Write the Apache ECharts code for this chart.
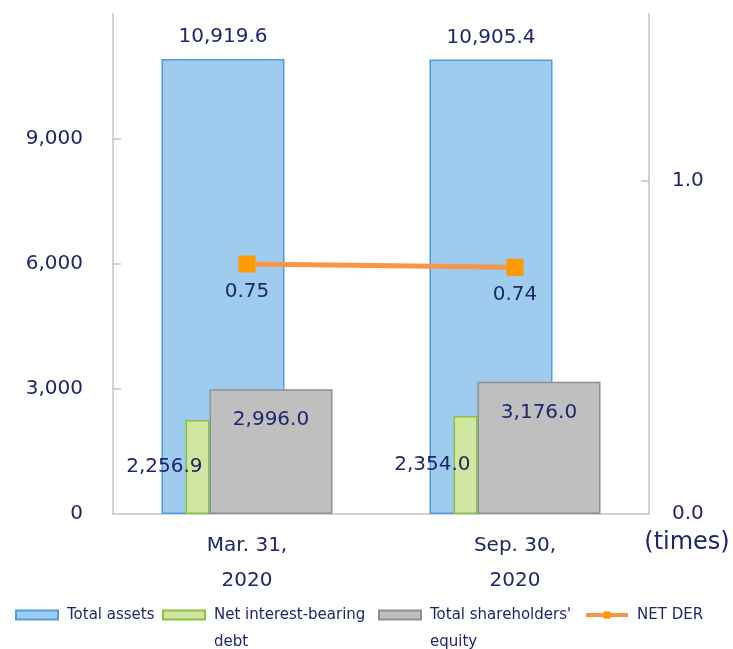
<!DOCTYPE html>
<html>
<head>
<meta charset="utf-8">
<title>Total assets / Net DER</title>
<script src="https://cdn.jsdelivr.net/npm/echarts@6/dist/echarts.min.js"></script>
<style>
  html, body { margin: 0; padding: 0; background: #fff; }
  #chart { width: 733px; height: 649px; }
</style>
</head>
<body>
<div id="chart"></div>
<script>
// values
const categories = ['Mar. 31,\n2020', 'Sep. 30,\n2020'];
const totalAssets = [10919.6, 10905.4];
const netDebt = [2256.9, 2354.0];
const equity = [2996.0, 3176.0];
const netDer = [0.75, 0.74];
const leftTicks = [0, 3000, 6000, 9000];
const rightTicks = [0, 1];
const seriesNames = ['Total assets', 'Net interest-bearing\ndebt', "Total shareholders'\nequity", 'NET DER'];

const FONT = "Verdana, 'DejaVu Sans', sans-serif";
const TEXT = '#1f276b';
const AXIS = '#c3c3c3';

const fmt1 = v => v.toLocaleString('en-US', { minimumFractionDigits: 1, maximumFractionDigits: 1 });

const chart = echarts.init(document.getElementById('chart'));

// one legend per item so each one sits where it does in the picture
// two-line names get a blank line in front so the first line stays level with the icon
function legendAt(name, left, multi, extra) {
  return {
    data: [Object.assign({ name: name, icon: 'rect' }, extra || {})],
    left: left,
    top: multi ? 574.5 : 601.5,
    padding: 0,
    itemWidth: 42,
    itemHeight: 9,
    formatter: n => (multi ? '\n' + n : n),
    textStyle: {
      color: TEXT,
      fontFamily: FONT,
      fontSize: 15,
      lineHeight: 27,
      padding: [0, 0, 0, 4]
    }
  };
}

const option = {
  animation: false,
  backgroundColor: '#fff',
  textStyle: { fontFamily: FONT },
  legend: [
    legendAt(seriesNames[0], 15, false),
    legendAt(seriesNames[1], 162, true),
    legendAt(seriesNames[2], 378, true),
    legendAt(seriesNames[3], 584, false, { icon: undefined, lineStyle: { width: 4 } })
  ],
  grid: [
    // main grid with the visible axes
    { left: 113, right: 84, top: 14, bottom: 135 },
    // total assets, shifted a bit left of the category centre
    { left: 89, right: 108, top: 14, bottom: 135 },
    // debt + equity pair, shifted a bit right
    { left: 125, right: 72, top: 14, bottom: 135 }
  ],
  xAxis: [
    {
      gridIndex: 0,
      type: 'category',
      data: categories,
      boundaryGap: true,
      axisLine: { lineStyle: { color: AXIS, width: 1.5 } },
      axisTick: { inside: true, length: 8, lineStyle: { color: AXIS, width: 1.5 } },
      axisLabel: { color: TEXT, fontSize: 20, lineHeight: 35, margin: 14, fontFamily: FONT }
    },
    { gridIndex: 1, type: 'category', data: categories, show: false },
    { gridIndex: 2, type: 'category', data: categories, show: false }
  ],
  yAxis: [
    {
      gridIndex: 0,
      type: 'value',
      min: 0,
      max: 12000,
      interval: 3000,
      splitLine: { show: false },
      axisLine: { show: true, lineStyle: { color: AXIS, width: 1.5 } },
      axisTick: { show: true, inside: true, length: 8, customValues: [3000, 6000, 9000], lineStyle: { color: AXIS, width: 1.5 } },
      axisLabel: {
        customValues: leftTicks,
        color: TEXT,
        fontSize: 20,
        margin: 30,
        fontFamily: FONT,
        formatter: v => v.toLocaleString('en-US')
      }
    },
    {
      gridIndex: 0,
      type: 'value',
      position: 'right',
      min: 0,
      max: 1.5,
      interval: 0.5,
      splitLine: { show: false },
      axisLine: { show: true, lineStyle: { color: AXIS, width: 1.5 } },
      axisTick: { show: true, inside: true, length: 8, customValues: [1], lineStyle: { color: AXIS, width: 1.5 } },
      axisLabel: {
        customValues: rightTicks,
        color: TEXT,
        fontSize: 20,
        margin: 23,
        fontFamily: FONT,
        formatter: v => v.toFixed(1)
      },
      name: '(times)',
      nameLocation: 'start',
      nameGap: 17,
      nameTextStyle: { color: TEXT, fontSize: 24, fontFamily: FONT, padding: [0, 0, 0, 76] }
    },
    { gridIndex: 1, type: 'value', min: 0, max: 12000, show: false },
    { gridIndex: 2, type: 'value', min: 0, max: 12000, show: false }
  ],
  series: [
    {
      name: seriesNames[0],
      type: 'bar',
      xAxisIndex: 1,
      yAxisIndex: 2,
      barWidth: 123,
      z: 1,
      data: totalAssets,
      itemStyle: { color: '#9fcbee', borderColor: '#4f9de0', borderWidth: 1.5 },
      label: {
        show: true,
        position: 'top',
        distance: 12,
        color: TEXT,
        fontSize: 20,
        fontFamily: FONT,
        formatter: p => fmt1(p.value)
      }
    },
    {
      name: seriesNames[1],
      type: 'bar',
      xAxisIndex: 2,
      yAxisIndex: 3,
      barWidth: 24,
      barGap: '0%',
      z: 2,
      data: netDebt,
      itemStyle: { color: '#cfe6a0', borderColor: '#8cc043', borderWidth: 1.5 },
      label: {
        show: true,
        position: 'insideRight',
        distance: 7,
        color: TEXT,
        fontSize: 20,
        fontFamily: FONT,
        formatter: p => fmt1(p.value)
      }
    },
    {
      name: seriesNames[2],
      type: 'bar',
      xAxisIndex: 2,
      yAxisIndex: 3,
      barWidth: 123,
      barGap: '0%',
      z: 2,
      data: equity,
      itemStyle: { color: '#bfbfbf', borderColor: '#8f8f8f', borderWidth: 1.5 },
      label: {
        show: true,
        position: 'insideTop',
        distance: 21,
        color: TEXT,
        fontSize: 20,
        fontFamily: FONT,
        formatter: p => fmt1(p.value)
      }
    },
    {
      name: seriesNames[3],
      type: 'line',
      xAxisIndex: 0,
      yAxisIndex: 1,
      z: 5,
      data: netDer,
      symbol: 'rect',
      symbolSize: 17,
      itemStyle: { color: '#ff9900' },
      lineStyle: { color: '#f79646', width: 5 },
      label: {
        show: true,
        position: 'bottom',
        distance: 9,
        color: TEXT,
        fontSize: 20,
        fontFamily: FONT,
        formatter: p => p.value.toFixed(2)
      }
    }
  ]
};

chart.setOption(option);
</script>
</body>
</html>
